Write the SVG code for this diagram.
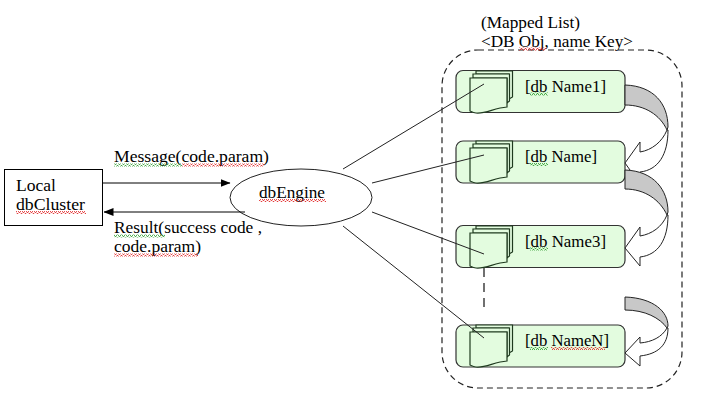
<svg xmlns="http://www.w3.org/2000/svg" width="707" height="403" viewBox="0 0 707 403">
<style>
text{font-family:"Liberation Serif","Times New Roman",serif;font-size:16.5px;fill:#000}
.ln{fill:none;stroke:#222;stroke-width:1}
.card{fill:#e3fcdf;stroke:#333;stroke-width:1.2}
.page{fill:#e3fcdf;stroke:#1f3a1f;stroke-width:1.2}
.band{fill:#c8c8c8;stroke:#222;stroke-width:1}
.head{fill:#fff;stroke:#222;stroke-width:1}
.red{fill:url(#wr)}
.grn{fill:url(#wg)}
</style>
<defs>
<pattern id="wr" width="4" height="3" patternUnits="userSpaceOnUse"><path d="M0 2.500L1 .5L2 .5L3 2.500L4 2.500" fill="none" stroke="#e02020" stroke-width=".8"/></pattern>
<pattern id="wg" width="4" height="3" patternUnits="userSpaceOnUse"><path d="M0 2.500L1 .5L2 .5L3 2.500L4 2.500" fill="none" stroke="#2a9a2a" stroke-width=".8"/></pattern>
<marker id="ah" markerWidth="10" markerHeight="8" refX="9.500" refY="4" orient="auto" markerUnits="userSpaceOnUse"><path d="M0 0L10 4L0 8z" fill="#000"/></marker>
<g id="stack">
<path class="page" d="M36 1H72.500V27L69 29V4H36z"/>
<path class="page" d="M33 4H69.500V31L67 33V8H33z"/>
<path class="page" d="M30 8H67V37C54 38 46 44 36 43C34 43 32 42 30 41z"/>
</g>
</defs>
<rect id="container" x="442" y="50" width="240" height="338" rx="36" fill="none" stroke="#222" stroke-width="1.2" stroke-dasharray="6 4"/>
<g id="mapped-label"><text x="481" y="28" textLength="99" lengthAdjust="spacingAndGlyphs">(Mapped List)</text><text x="481" y="47" textLength="152" lengthAdjust="spacingAndGlyphs">&lt;DB Obj, name Key&gt;</text><rect class="red" x="519" y="47.500" width="27" height="3"/></g>
<g id="node-cluster"><rect x="4.500" y="169.500" width="98" height="56" fill="#fff" stroke="#000"/><text x="16" y="191" textLength="40" lengthAdjust="spacingAndGlyphs">Local</text><text x="16" y="210" textLength="69" lengthAdjust="spacingAndGlyphs">dbCluster</text><rect class="red" x="16" y="211" width="70" height="3"/></g>
<g id="node-engine"><ellipse cx="301" cy="197.500" rx="71" ry="28.500" fill="#fff" stroke="#222"/><text x="259" y="198" textLength="66" lengthAdjust="spacingAndGlyphs">dbEngine</text><rect class="red" x="259" y="199" width="67" height="3"/></g>
<g id="node-1"><rect class="card" x="456" y="70.500" width="169" height="42" rx="7"/><use href="#stack" x="440" y="70"/><text x="525" y="92" textLength="81" lengthAdjust="spacingAndGlyphs">[db Name1]</text><rect class="grn" x="530" y="92.500" width="18" height="3"/></g>
<g id="node-2"><rect class="card" x="456" y="141" width="169" height="42" rx="7"/><use href="#stack" x="440" y="140"/><text x="525" y="162" textLength="72" lengthAdjust="spacingAndGlyphs">[db Name]</text><rect class="grn" x="530" y="163" width="18" height="3"/></g>
<g id="node-3"><rect class="card" x="456" y="225.500" width="169" height="42" rx="7"/><use href="#stack" x="440" y="225"/><text x="525" y="247" textLength="81" lengthAdjust="spacingAndGlyphs">[db Name3]</text><rect class="grn" x="530" y="247.500" width="18" height="3"/></g>
<g id="node-4"><rect class="card" x="456" y="325" width="169" height="42" rx="7"/><use href="#stack" x="440" y="324"/><text x="525" y="346" textLength="84" lengthAdjust="spacingAndGlyphs">[db NameN]</text><rect class="grn" x="530" y="347" width="18" height="3"/><rect class="red" x="551" y="347" width="54" height="3"/></g>
<g id="connectors">
<path class="ln" d="M343 169L484 84M372 183L484 155M372 212L484 254M343 226L484 338"/>
<path d="M484 268V312" fill="none" stroke="#111" stroke-width="1.2" stroke-dasharray="9 6"/>
<path d="M103 183H230" fill="none" stroke="#000" marker-end="url(#ah)"/>
<path d="M245 212H104" fill="none" stroke="#000" marker-end="url(#ah)"/>
<path class="head" d="M667 130C662 142 652 150 640 152V142L625 163L640 184V172C658 170 668 155 668 130z"/>
<path class="band" d="M625 85C654 86 668 104 668 127L667 130C660 115 645 105 625 105z"/>
<path class="head" d="M667 215C662 227 652 234 640 236V227L625 248L640 266V257C658 255 668 240 668 215z"/>
<path class="band" d="M625 170C654 171 668 190 668 212L667 215C660 200 645 189 625 189z"/>
<path class="head" d="M667 328C662 337 652 342 640 343V337L625 353L640 366V356C658 354 668 345 668 328z"/>
<path class="band" d="M625 297C654 298 668 312 668 326L667 328C660 318 645 310 625 310z"/>
</g>
<g id="labels">
<text x="114" y="162" textLength="155" lengthAdjust="spacingAndGlyphs">Message(code.param)</text><rect class="grn" x="114" y="163.500" width="68" height="3"/><rect class="red" x="182" y="163.500" width="82" height="3"/>
<text x="114" y="233" textLength="148" lengthAdjust="spacingAndGlyphs">Result(success code ,</text><rect class="grn" x="114" y="234.500" width="51" height="3"/>
<text x="114" y="252" textLength="87" lengthAdjust="spacingAndGlyphs">code.param)</text><rect class="red" x="114" y="253.500" width="84" height="3"/>
</g>
</svg>
